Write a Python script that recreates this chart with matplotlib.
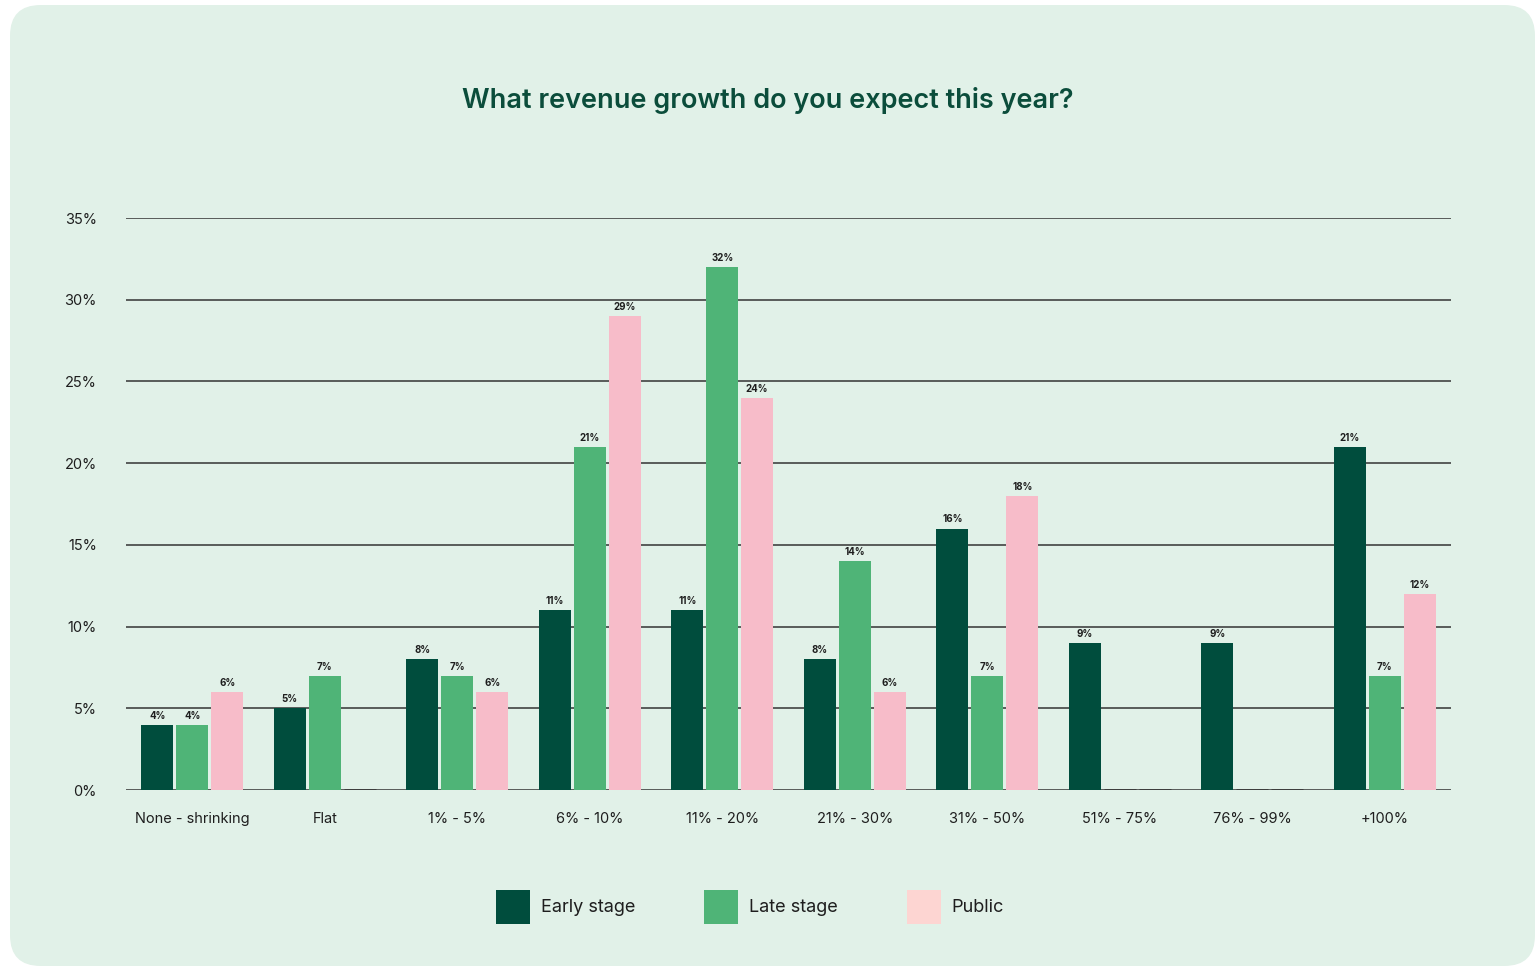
import matplotlib.pyplot as plt
import numpy as np
from matplotlib.patches import FancyBboxPatch, Patch

categories = ['None - shrinking', 'Flat', '1% - 5%', '6% - 10%', '11% - 20%',
              '21% - 30%', '31% - 50%', '51% - 75%', '76% - 99%', '+100%']
early_stage = [4, 5, 8, 11, 11, 8, 16, 9, 9, 21]
late_stage = [4, 7, 7, 21, 32, 14, 7, 0, 0, 7]
public = [6, 0, 6, 29, 24, 6, 18, 0, 0, 12]
y_ticks = [0, 5, 10, 15, 20, 25, 30, 35]

series = [
    ('Early stage', early_stage, '#004D3D', '#004D3D'),
    ('Late stage', late_stage, '#4FB477', '#4FB477'),
    ('Public', public, '#F7BCC9', '#FDD5D2'),
]

CARD = '#E1F1E8'
TEXT = '#1E1E1E'

plt.rcParams['font.family'] = ['Inter', 'DejaVu Sans']

fig = plt.figure(figsize=(15.35, 9.66), dpi=100)
fig.patch.set_facecolor('white')

# rounded background card, kept behind the axes
card = FancyBboxPatch((10 / 1535, 0), 1 - 10 / 1535, 1 - 5 / 966,
                      boxstyle='round,pad=0,rounding_size=0.02',
                      mutation_aspect=1535 / 966,
                      transform=fig.transFigure, facecolor=CARD,
                      edgecolor='none', zorder=-10)
fig.patches.append(card)

ax = fig.add_axes([126 / 1535, 1 - 790 / 966, (1451 - 126) / 1535, (790 - 218) / 966])
ax.set_facecolor('none')

x = np.arange(len(categories))
width = 0.241
step = 0.264

for i, (name, vals, color, _) in enumerate(series):
    pos = x + (i - 1) * step
    bars = ax.bar(pos, vals, width=width, color=color, zorder=3)
    for b, v in zip(bars, vals):
        if v == 0:
            # empty answers show as a short dark stub on the baseline
            ax.plot([b.get_x(), b.get_x() + width], [0, 0], color='#3A3A3A',
                    lw=2, solid_capstyle='butt', zorder=4)
            continue
        ax.text(b.get_x() + width / 2, v + 0.25, f'{v}%', ha='center', va='bottom',
                fontsize=7, fontweight='bold', color=TEXT, zorder=5)

ax.set_xlim(-0.5, 9.5)
ax.set_ylim(0, 35)
ax.set_yticks(y_ticks)
ax.set_yticklabels([f'{t}%' for t in y_ticks])
ax.set_xticks(x)
ax.set_xticklabels(categories)
ax.tick_params(axis='y', length=0, pad=21, labelsize=10.5, labelcolor=TEXT)
ax.tick_params(axis='x', length=0, pad=16, labelsize=10.5, labelcolor=TEXT)
ax.grid(axis='y', color='#333333', lw=1.1, zorder=1)
for s in ax.spines.values():
    s.set_visible(False)

fig.text(0.5, 1 - 100 / 966, 'What revenue growth do you expect this year?',
         ha='center', va='center', fontsize=19.5, fontweight='semibold',
         color='#0B4D3B')

handles = [Patch(facecolor=lc, edgecolor='none', label=n) for n, _, _, lc in series]
fig.legend(handles=handles, loc='center', bbox_to_anchor=(750 / 1535, 1 - 907 / 966),
           ncol=3, frameon=False, fontsize=13, handlelength=1.9, handleheight=2.6,
           handletextpad=0.6, columnspacing=3.8, labelcolor=TEXT)

fig.savefig('out.png', dpi=100, facecolor=fig.get_facecolor())
